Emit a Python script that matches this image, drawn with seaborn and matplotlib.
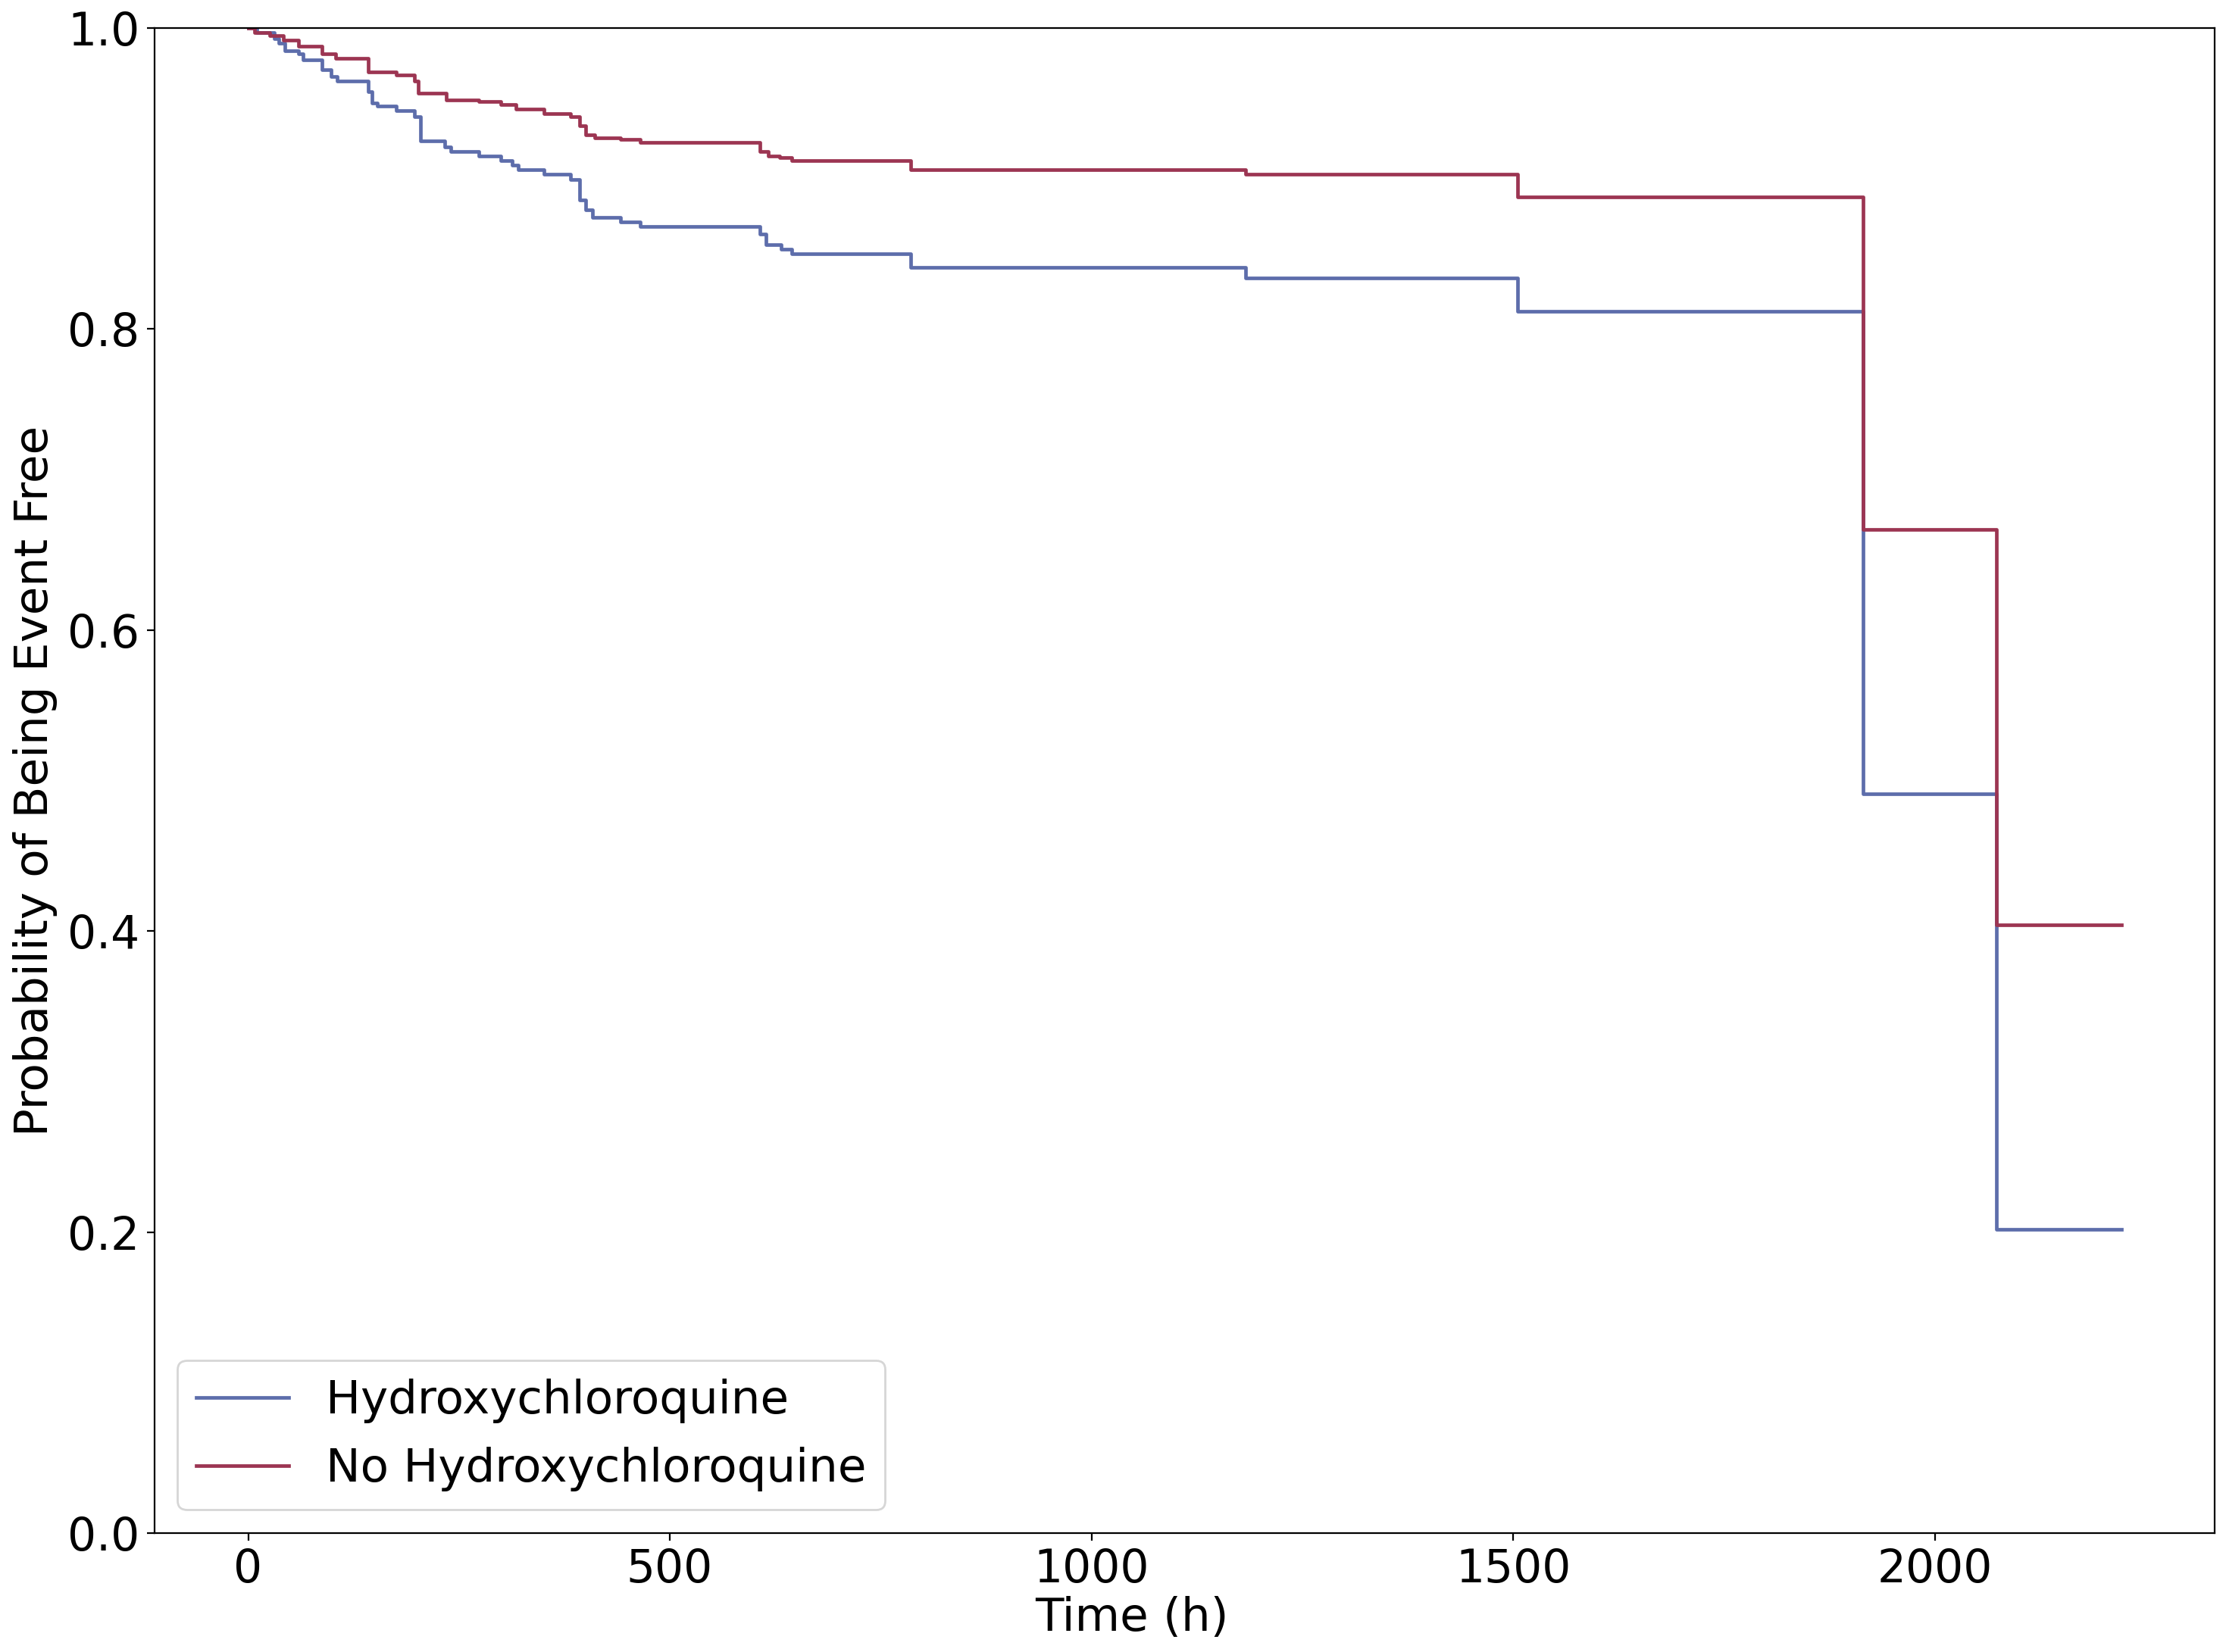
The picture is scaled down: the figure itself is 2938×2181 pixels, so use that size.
import matplotlib
matplotlib.use("Agg")
import matplotlib.pyplot as plt
import seaborn as sns
import pandas as pd
import numpy as np

# curvas de Kaplan-Meier (tiempo en horas, probabilidad)
hcq_time = [0, 10, 31, 36, 44, 60, 65, 88, 98, 106, 142, 147, 153, 176, 197, 204,
            233, 240, 274, 300, 313, 320, 351, 382, 393, 400, 408, 442, 465, 607,
            614, 632, 645, 786, 1183, 1505, 1915, 2073, 2221]
hcq_prob = [1.0, 0.997, 0.993, 0.990, 0.985, 0.983, 0.979, 0.9725, 0.968, 0.965,
            0.958, 0.950, 0.948, 0.945, 0.941, 0.925, 0.921, 0.918, 0.915, 0.912,
            0.909, 0.906, 0.903, 0.8995, 0.886, 0.879, 0.874, 0.871, 0.868, 0.863,
            0.856, 0.853, 0.850, 0.841, 0.834, 0.812, 0.491, 0.202, 0.202]

no_hcq_time = [0, 8, 26, 42, 60, 88, 104, 142, 176, 197, 202, 235, 274, 300, 318,
               351, 382, 393, 400, 411, 442, 465, 607, 617, 630, 645, 786, 1183,
               1505, 1915, 2073, 2221]
no_hcq_prob = [1.0, 0.997, 0.995, 0.992, 0.988, 0.983, 0.980, 0.971, 0.969, 0.965,
               0.957, 0.952, 0.951, 0.949, 0.946, 0.943, 0.941, 0.935, 0.929, 0.927,
               0.926, 0.924, 0.918, 0.915, 0.914, 0.912, 0.906, 0.903, 0.888, 0.667,
               0.404, 0.404]

groups = ["Hydroxychloroquine", "No Hydroxychloroquine"]
colores = {"Hydroxychloroquine": "#5d6dab", "No Hydroxychloroquine": "#9c3552"}

df = pd.concat([
    pd.DataFrame({"time": hcq_time, "prob": hcq_prob, "group": groups[0]}),
    pd.DataFrame({"time": no_hcq_time, "prob": no_hcq_prob, "group": groups[1]}),
])

plt.rcParams['font.family'] = ['DejaVu Sans']

fig = plt.figure(figsize=(14.69, 10.905), dpi=200)
ax = fig.add_axes([0.0694, 0.072, 0.9256, 0.911])

sns.lineplot(data=df, x="time", y="prob", hue="group", hue_order=groups,
             palette=colores, drawstyle="steps-post", estimator=None,
             linewidth=1.7, ax=ax)

ax.set_ylim(0, 1)
ax.set_yticks(np.arange(0, 1.01, 0.2))
ax.set_yticklabels([f"{v:.1f}" for v in np.arange(0, 1.01, 0.2)])
ax.set_xticks([0, 500, 1000, 1500, 2000])
ax.tick_params(labelsize=21.5)
ax.set_xlabel("Time (h)", fontsize=22)
ax.set_ylabel("Probability of Being Event Free", fontsize=22)
ax.xaxis.set_label_coords(0.4745, -0.042)
ax.yaxis.set_label_coords(-0.047, 0.5)

ax.legend(loc="lower left", fontsize=22, title=None)

plt.savefig("out.png", dpi=200)
